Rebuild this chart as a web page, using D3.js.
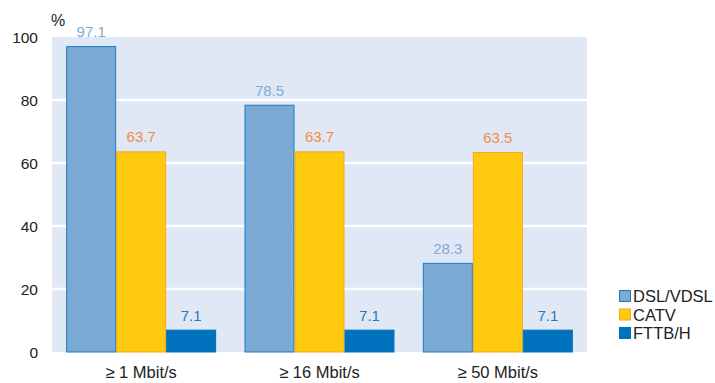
<!DOCTYPE html>
<html>
<head>
<meta charset="utf-8">
<script src="https://cdn.jsdelivr.net/npm/d3@7"></script>
<style>
body { margin: 0; background: #fff; }
text { font-family: "Liberation Sans", Arial, sans-serif; }
</style>
</head>
<body>
<div id="chart"></div>
<script>
var categories = ["≥ 1 Mbit/s", "≥ 16 Mbit/s", "≥ 50 Mbit/s"];
var seriesNames = ["DSL/VDSL", "CATV", "FTTB/H"];
var dslValues = [97.1, 78.5, 28.3];
var catvValues = [63.7, 63.7, 63.5];
var fttbValues = [7.1, 7.1, 7.1];
var yTicks = [0, 20, 40, 60, 80, 100];

var w = 715;
var h = 383;
var fills = ["#7aaad4", "#ffc90e", "#0071bc"];
var strokes = ["#1a7ac0", "#f5a623", "#0071bc"];
var labelColors = ["#7fabd6", "#f08d45", "#1d7cc2"];

var svg = d3.select("#chart")
    .append("svg")
    .attr("width", w)
    .attr("height", h);

var x0 = d3.scaleBand()
    .domain(categories)
    .range([52, 587])
    .paddingInner(0.159)
    .paddingOuter(0.0795);

var x1 = d3.scaleBand()
    .domain(seriesNames)
    .range([0, x0.bandwidth()]);

var y = d3.scaleLinear()
    .domain([0, 100])
    .range([352, 37]);

// plot background
svg.append("rect")
    .attr("x", 52)
    .attr("y", y(100))
    .attr("width", 535)
    .attr("height", y(0) - y(100))
    .attr("fill", "#e1e8f5");

// gridlines
svg.selectAll(".grid")
    .data(yTicks.filter(function (d) { return d > 0 && d < 100; }))
    .enter()
    .append("line")
    .attr("x1", 52)
    .attr("x2", 587)
    .attr("y1", function (d) { return y(d); })
    .attr("y2", function (d) { return y(d); })
    .attr("stroke", "#fff")
    .attr("stroke-width", 2.5);

// y axis labels
svg.selectAll(".ytick")
    .data(yTicks)
    .enter()
    .append("text")
    .attr("x", 38)
    .attr("y", function (d) { return y(d) + 5.5; })
    .attr("text-anchor", "end")
    .attr("font-size", 15.5)
    .attr("fill", "#222")
    .text(function (d) { return d; });

svg.append("text")
    .attr("x", 51)
    .attr("y", 26)
    .attr("font-size", 16)
    .attr("fill", "#222")
    .text("%");

var rows = categories.map(function (c, i) {
    return { cat: c, vals: [dslValues[i], catvValues[i], fttbValues[i]] };
});

var groups = svg.selectAll("g.group")
    .data(rows)
    .enter()
    .append("g")
    .attr("class", "group")
    .attr("transform", function (d) { return "translate(" + x0(d.cat) + ",0)"; });

groups.selectAll("rect")
    .data(function (d) {
        return d.vals.map(function (v, j) { return { s: seriesNames[j], v: v, j: j }; });
    })
    .enter()
    .append("rect")
    .attr("x", function (d) { return x1(d.s) + 0.5; })
    .attr("y", function (d) { return y(d.v) + 0.5; })
    .attr("width", function (d) { return x1.bandwidth() - 1; })
    .attr("height", function (d) { return y(0) - y(d.v) - 0.5; })
    .attr("fill", function (d) { return fills[d.j]; })
    .attr("stroke", function (d) { return strokes[d.j]; })
    .attr("stroke-width", 1);

groups.selectAll("text")
    .data(function (d) {
        return d.vals.map(function (v, j) { return { s: seriesNames[j], v: v, j: j }; });
    })
    .enter()
    .append("text")
    .attr("x", function (d) { return x1(d.s) + x1.bandwidth() / 2; })
    .attr("y", function (d) { return y(d.v) - 9; })
    .attr("text-anchor", "middle")
    .attr("font-size", 15)
    .attr("fill", function (d) { return labelColors[d.j]; })
    .text(function (d) { return d.v.toFixed(1); });

// x labels
svg.selectAll(".xlabel")
    .data(categories)
    .enter()
    .append("text")
    .attr("x", function (d) { return x0(d) + x0.bandwidth() / 2; })
    .attr("y", 378)
    .attr("text-anchor", "middle")
    .attr("font-size", 16.5)
    .attr("fill", "#222")
    .text(function (d) { return d; });

// legend
var legend = svg.selectAll(".legend")
    .data(seriesNames)
    .enter()
    .append("g")
    .attr("class", "legend")
    .attr("transform", function (d, i) { return "translate(619," + (290 + i * 18.5) + ")"; });

legend.append("rect")
    .attr("x", 0.5)
    .attr("y", 0.5)
    .attr("width", 11)
    .attr("height", 11)
    .attr("fill", function (d, i) { return fills[i]; })
    .attr("stroke", function (d, i) { return strokes[i]; });

legend.append("text")
    .attr("x", 14)
    .attr("y", 12)
    .attr("font-size", 16.5)
    .attr("fill", "#222")
    .text(function (d) { return d; });
</script>
</body>
</html>
